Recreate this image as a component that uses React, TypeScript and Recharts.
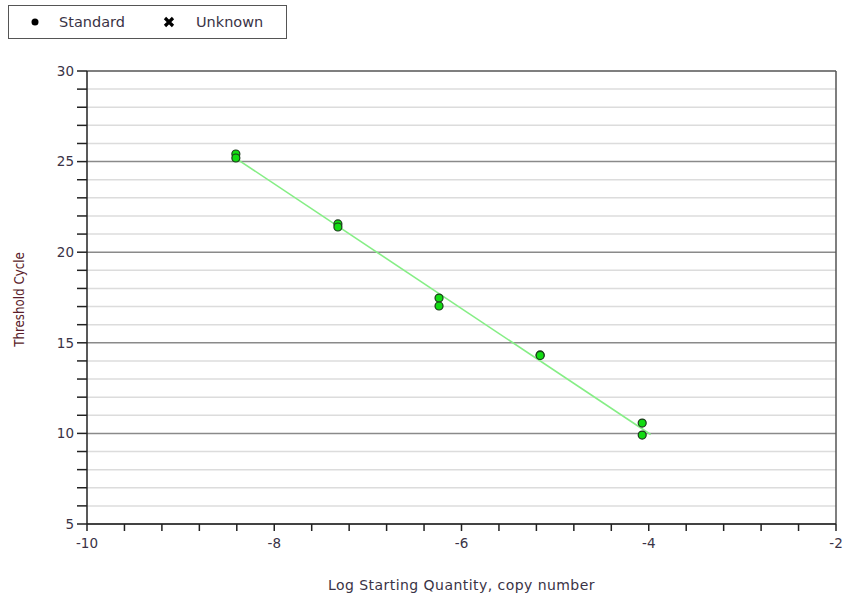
import React from "react"
import {
  ComposedChart,
  Scatter,
  Line,
  XAxis,
  YAxis,
  ReferenceLine,
} from "recharts"

// standard curve replicates (log starting quantity vs threshold cycle)
const stdLogQty = [-8.41, -8.41, -7.32, -7.32, -6.24, -6.24, -5.16, -5.16, -4.07, -4.07]
const stdCt = [25.42, 25.2, 21.56, 21.39, 17.47, 17.03, 14.33, 14.3, 10.57, 9.91]

// fitted regression line end points
const fitLogQty = [-8.41, -3.98]
const fitCt = [25.18, 9.94]

const xTicks = [-10, -9.6, -9.2, -8.8, -8.4, -8, -7.6, -7.2, -6.8, -6.4, -6, -5.6, -5.2, -4.8, -4.4, -4, -3.6, -3.2, -2.8, -2.4, -2]
const xLabels = [-10, -8, -6, -4, -2]
const yTicks = [5, 6, 7, 8, 9, 10, 11, 12, 13, 14, 15, 16, 17, 18, 19, 20, 21, 22, 23, 24, 25, 26, 27, 28, 29, 30]
const yLabels = [5, 10, 15, 20, 25, 30]

const legendItems = ["Standard", "Unknown"]

const stdData = stdLogQty.map((x, i) => ({ x, y: stdCt[i] }))
const fitData = fitLogQty.map((x, i) => ({ x, y: fitCt[i] }))

const FONT = "'DejaVu Sans', Verdana, sans-serif"
const textColor = "#3a3346"

function Dot(props: any) {
  const { cx, cy } = props
  return <circle cx={cx} cy={cy} r={4} fill="#12dc12" stroke="#1c3a1c" strokeWidth={1.2} />
}

function LegendMarker({ name }: { name: string }) {
  if (name === "Standard") {
    return (
      <svg width={10} height={10}>
        <circle cx={5} cy={5} r={3.5} fill="#000" />
      </svg>
    )
  }
  return (
    <svg width={12} height={12}>
      <path d="M2 2 L10 10 M10 2 L2 10" stroke="#000" strokeWidth={3.2} />
    </svg>
  )
}

export default function App() {
  return (
    <div style={{ position: "absolute", left: 0, top: 0, width: 845, height: 599, background: "#fff" }}>
      <div
        style={{
          position: "absolute",
          left: 8,
          top: 5,
          width: 277,
          height: 32,
          border: "1px solid #555",
          display: "flex",
          alignItems: "center",
          fontFamily: FONT,
          fontSize: 14.5,
          color: textColor,
          zIndex: 2,
        }}
      >
        {legendItems.map((name, i) => (
          <div key={name} style={{ display: "flex", alignItems: "center", marginLeft: i === 0 ? 21 : 38 }}>
            <LegendMarker name={name} />
            <span style={{ marginLeft: i === 0 ? 19 : 21 }}>{name}</span>
          </div>
        ))}
      </div>
      <ComposedChart width={845} height={599} margin={{ top: 71, right: 9, bottom: 0, left: 0 }}>
        {yTicks.map((t) => (
          <ReferenceLine
            key={`g${t}`}
            y={t}
            stroke={t === 30 ? "#555" : yLabels.includes(t) ? "#8a8a8a" : "#dcdcdc"}
            strokeWidth={1.5}
            ifOverflow="extendDomain"
          />
        ))}
        <ReferenceLine x={-2} stroke="#555" strokeWidth={1.5} />
        <XAxis
          type="number"
          dataKey="x"
          domain={[-10, -2]}
          ticks={xTicks}
          interval={0}
          allowDataOverflow
          height={75}
          tickSize={7}
          tickMargin={7}
          axisLine={{ stroke: "#222", strokeWidth: 1.5 }}
          tickLine={{ stroke: "#222", strokeWidth: 1.5 }}
          tick={{ fill: textColor, fontSize: 13.5, fontFamily: FONT }}
          tickFormatter={(v: number) => (xLabels.includes(Math.round(v * 10) / 10) ? String(v) : "")}
          label={{
            value: "Log Starting Quantity, copy number",
            position: "insideBottom",
            offset: 9,
            fill: textColor,
            fontSize: 14,
            fontFamily: FONT,
            letterSpacing: 0.45,
          }}
        />
        <YAxis
          type="number"
          dataKey="y"
          domain={[5, 30]}
          ticks={yTicks}
          interval={0}
          allowDataOverflow
          width={87}
          tickSize={10}
          tickMargin={3}
          axisLine={{ stroke: "#222", strokeWidth: 1.5 }}
          tickLine={{ stroke: "#222", strokeWidth: 1.5 }}
          tick={{ fill: textColor, fontSize: 13.5, fontFamily: FONT }}
          tickFormatter={(v: number) => (yLabels.includes(v) ? String(v) : "")}
          label={(p: any) => {
            const vb = p.viewBox
            const cx = vb.x + 19
            const cy = vb.y + vb.height / 2 + 2
            return (
              <text
                x={cx}
                y={cy}
                transform={`rotate(-90 ${cx} ${cy})`}
                textAnchor="middle"
                dominantBaseline="central"
                fill="#5a1c2a"
                fontSize={13.2}
                fontFamily="'DejaVu Sans Condensed', 'DejaVu Sans', sans-serif"
              >
                Threshold Cycle
              </text>
            )
          }}
        />
        <Line
          data={fitData}
          dataKey="y"
          type="linear"
          stroke="#86ee86"
          strokeWidth={1.6}
          dot={false}
          activeDot={false}
          isAnimationActive={false}
        />
        <Scatter data={stdData} dataKey="y" shape={<Dot />} isAnimationActive={false} />
      </ComposedChart>
    </div>
  )
}
